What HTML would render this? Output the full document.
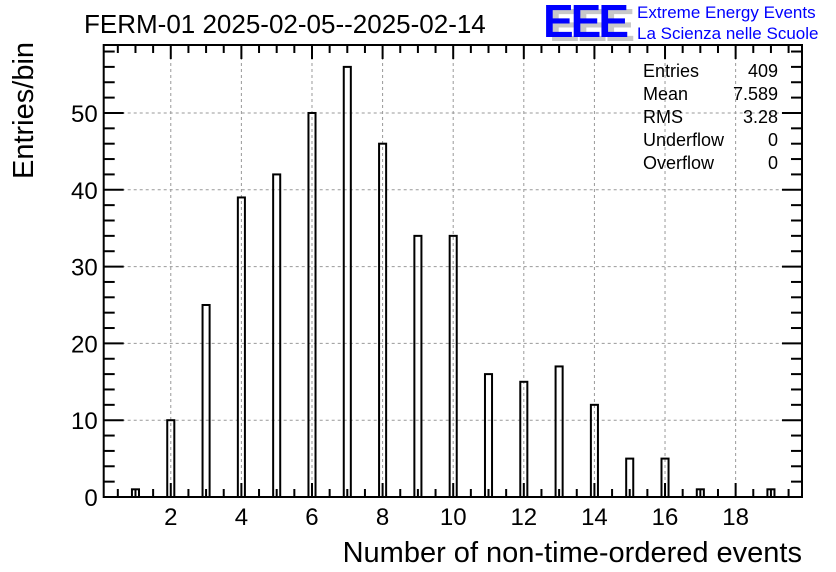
<!DOCTYPE html>
<html><head><meta charset="utf-8"><style>
body{margin:0;background:#fff;}
svg{display:block;font-family:"Liberation Sans",Arial,sans-serif;}
</style></head><body>
<svg id="chart" width="836" height="572" viewBox="0 0 836 572">
<rect width="836" height="572" fill="#fff"/>
<text x="84" y="33" font-size="26">FERM-01 2025-02-05--2025-02-14</text>
<g>
<text x="549" y="41" font-size="46" font-weight="bold" fill="#c8c8c8" letter-spacing="-3">EEE</text>
<text x="543" y="37" font-size="46" font-weight="bold" fill="#0000ff" letter-spacing="-3">EEE</text>
<text x="637" y="18" font-size="17" fill="#0000ff">Extreme Energy Events</text>
<text x="637" y="39" font-size="17" fill="#0000ff">La Scienza nelle Scuole</text>
</g>
<g id="grid"></g>
<g id="bars"></g>
<g id="axes"></g>
<g font-size="18">
<text x="643" y="77">Entries</text><text x="778" y="77" text-anchor="end">409</text>
<text x="643" y="100">Mean</text><text x="778" y="100" text-anchor="end">7.589</text>
<text x="643" y="123">RMS</text><text x="778" y="123" text-anchor="end">3.28</text>
<text x="643" y="146">Underflow</text><text x="778" y="146" text-anchor="end">0</text>
<text x="643" y="169">Overflow</text><text x="778" y="169" text-anchor="end">0</text>
</g>
<text transform="translate(33,179) rotate(-90)" font-size="29">Entries/bin</text>
<text x="802" y="562" font-size="29" text-anchor="end">Number of non-time-ordered events</text>
</svg>
<script>
const categories=[1,2,3,4,5,6,7,8,9,10,11,12,13,14,15,16,17,19];
const counts=[1,10,25,39,42,50,56,46,34,34,16,15,17,12,5,5,1,1];
const xTickLabels=[2,4,6,8,10,12,14,16,18];
const yTickLabels=[0,10,20,30,40,50];
const L=103.7,R=802,T=45,B=497;
const xMin=0.1,xMax=19.88,yMin=0,yMax=58.85;
const sx=v=>L+(v-xMin)/(xMax-xMin)*(R-L);
const sy=v=>B-(v-yMin)/(yMax-yMin)*(B-T);
const NS="http://www.w3.org/2000/svg";
function mk(tag,attrs,parent){const e=document.createElementNS(NS,tag);for(const k in attrs)e.setAttribute(k,attrs[k]);parent.appendChild(e);return e;}
const grid=document.getElementById('grid'),bars=document.getElementById('bars'),axes=document.getElementById('axes');
xTickLabels.forEach(v=>{const l=mk('line',{x1:sx(v),x2:sx(v),y1:T,y2:B,stroke:'#999','stroke-dasharray':'3,3'},grid);

});
yTickLabels.slice(1).forEach(v=>{const l=mk('line',{x1:L,x2:R,y1:sy(v),y2:sy(v),stroke:'#999','stroke-dasharray':'3,3'},grid);

});
categories.forEach((c,i)=>{const x0=sx(c-0.1),x1=sx(c+0.1);
const r=mk('rect',{x:x0,y:sy(counts[i]),width:x1-x0,height:B-sy(counts[i]),fill:'none',stroke:'#000','stroke-width':2},bars);

});
const frame=mk('rect',{x:L,y:T,width:R-L,height:B-T,fill:'none',stroke:'#000','stroke-width':2},axes);


for(let v=0.5;v<xMax;v+=0.5){const major=Math.abs(v/2-Math.round(v/2))<1e-6;const len=major?14:8;
mk('line',{x1:sx(v),x2:sx(v),y1:B,y2:B-len,stroke:'#000','stroke-width':2},axes);
mk('line',{x1:sx(v),x2:sx(v),y1:T,y2:T+len,stroke:'#000','stroke-width':2},axes);}
for(let v=2;v<yMax;v+=2){const major=v%10===0;const len=major?20:11;
mk('line',{x1:L,x2:L+len,y1:sy(v),y2:sy(v),stroke:'#000','stroke-width':2},axes);
mk('line',{x1:R,x2:R-len,y1:sy(v),y2:sy(v),stroke:'#000','stroke-width':2},axes);}
xTickLabels.forEach(v=>{const t=mk('text',{x:sx(v),y:B+28,'font-size':24,'text-anchor':'middle'},axes);t.textContent=v;

});
yTickLabels.forEach(v=>{const t=mk('text',{x:L-6,y:sy(v)+9,'font-size':24,'text-anchor':'end'},axes);t.textContent=v;

});
</script>
</body></html>
